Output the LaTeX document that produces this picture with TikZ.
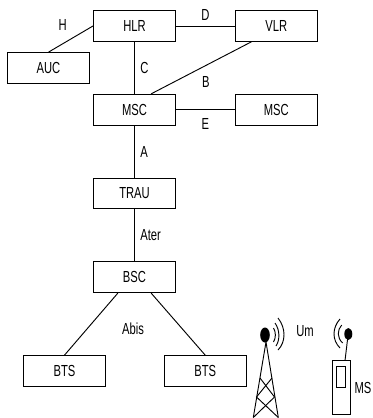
\documentclass[tikz,border=0pt]{standalone}
\usepackage{fontspec}
\setmainfont[FakeStretch=0.7]{Liberation Sans}
\usetikzlibrary{calc,positioning}
\tikzset{
  unit/.style={draw,line width=0.8pt,minimum width=61.5pt,minimum height=23pt,inner sep=0pt},
  tag/.style={inner sep=0pt},
}

\begin{document}
\begin{tikzpicture}[x=0.75pt,y=-0.75pt,font=\fontsize{12}{14}\selectfont,line width=0.7pt]
    \useasboundingbox (0,0) rectangle (372,418);
    \node[unit] (hlr) at (134.5,26) {HLR};
    \node[unit,right=44pt of hlr] (vlr) {VLR};
    \node[unit,below=39pt of hlr] (msc) {MSC};
    \node[unit,right=44pt of msc] (msctwo) {MSC};
    \node[unit,below=39pt of msc] (trau) {TRAU};
    \node[unit,below=39pt of trau] (bsc) {BSC};
    \node[unit,at={(48.5,68)}] (auc) {AUC};
    \node[unit,at={(64.5,371)}] (btsa) {BTS};
    \node[unit,at={(205.2,371)}] (btsb) {BTS};
    % interfaces
    \draw (hlr.west) -- (auc.north) node[tag,pos=0.5,xshift=-6pt,yshift=10.5pt] {H};
    \draw (hlr) -- (vlr) node[tag,midway,above=3.5pt] {D};
    \draw (hlr) -- (msc) node[tag,midway,right=4pt] {C};
    \draw ($(vlr.south west)!0.2!(vlr.south east)$) -- ($(msc.north west)!0.7!(msc.north east)$) node[tag,midway,xshift=3.5pt,yshift=-10.5pt] {B};
    \draw (msc) -- (msctwo) node[tag,midway,below=6pt] {E};
    \draw (msc) -- (trau) node[tag,midway,right=4pt] {A};
    \draw (trau) -- (bsc) node[tag,midway,right=4pt] {Ater};
    \draw ($(bsc.south west)!0.3!(bsc.south east)$) -- (btsa.north);
    \draw ($(bsc.south west)!0.7!(bsc.south east)$) -- (btsb.north);
    \node[tag] (abis) at (133,329) {Abis};
    \node[tag] (um) at (305,331) {Um};
    \node[tag] (ms) at (363,388) {MS};
    % tower
    \fill (265,335) ellipse (4.8 and 7.5);
    \draw (266,342) -- (253.3,417.5) (266,342) -- (278.3,417.5);
    \draw (260,378) -- (274.5,397) -- (253.3,417.5) (272,378) -- (256.5,397) -- (278.3,417.5);
    \draw (273.5,328) .. controls (276,332) and (276,338) .. (273.5,342);
    \draw (275,323) .. controls (280,330) and (280,340) .. (276,346);
    \draw (278,318) .. controls (286,328) and (286,342) .. (278,350);
    % handset
    \draw (332.7,360.7) rectangle (350,414);
    \draw (336,366) rectangle (345.7,387.3);
    \fill (348.3,334) ellipse (4 and 6);
    \draw (345,360.7) -- (347.7,338);
    \draw (341.7,325) .. controls (337,330) and (337,338) .. (342.7,343);
    \draw (340,319) .. controls (332,328) and (332,340) .. (340,348);
\end{tikzpicture}
\end{document}
